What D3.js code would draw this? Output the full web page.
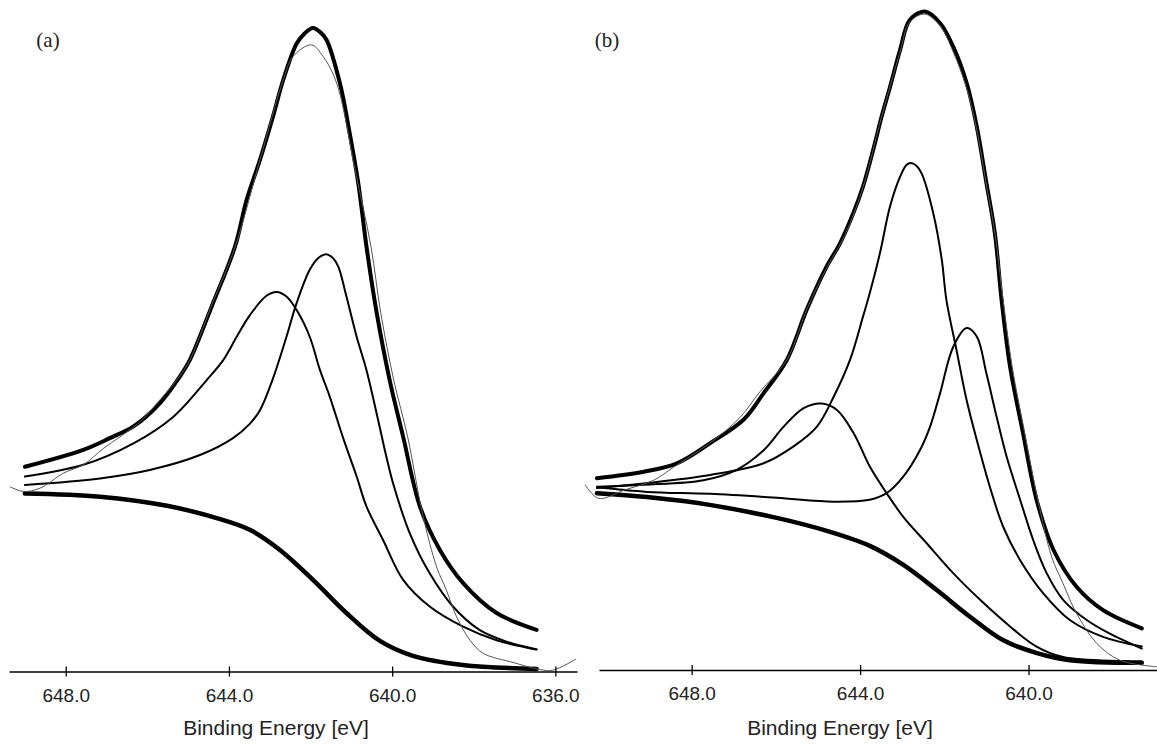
<!DOCTYPE html>
<html>
<head>
<meta charset="utf-8">
<script src="https://cdn.jsdelivr.net/npm/d3@7"></script>
<style>
  body { margin: 0; background: #fff; }
  svg { display: block; }
</style>
</head>
<body>
<div id="chart"></div>
<script>
// ---- panel (a): [binding energy eV, intensity a.u.] ----
var aTicks = [648, 644, 640, 636];
var aBackground = [[649.00,274],[647.16,269],[645.52,255],[644.30,236],[643.49,218],[642.75,187],[641.94,141],
  [641.12,90],[640.30,47],[639.49,24],[638.27,10],[636.46,4]];
var aPeak1 = [[649.00,300],[647.57,318],[646.34,351],[645.36,392],[644.55,448],[644.14,479],[643.80,516],[643.49,548],
  [643.08,578],[642.83,584],[642.59,577],[642.34,556],[642.02,515],[641.77,464],[641.53,423],[641.20,359],[640.87,300],
  [640.63,254],[640.22,202],[639.73,141],[639.08,100],[638.26,69],[637.44,48],[636.46,34]];
var aPeak2 = [[649.00,287],[647.16,297],[645.94,310],[644.71,333],[643.90,359],[643.49,381],[643.24,402],[642.92,451],
  [642.59,515],[642.34,567],[642.02,618],[641.81,636],[641.62,642],[641.45,636],[641.32,623],[641.12,577],[640.87,515],
  [640.63,464],[640.38,397],[640.14,330],[639.98,290],[639.57,213],[639.08,151],[638.51,100],[637.86,64],[637.20,46],[636.46,34]];
var aEnvelope = [[649.00,315],[647.57,341],[646.92,359],[646.34,377],[645.69,413],[645.20,454],[644.96,479],[644.42,562],
  [643.85,654],[643.57,725],[643.24,787],[642.92,854],[642.67,910],[642.34,966],[642.14,982],[641.94,990],[641.77,984],
  [641.61,972],[641.28,905],[641.04,828],[640.83,751],[640.63,654],[640.38,552],[640.06,448],[639.73,361],[639.32,254],
  [638.83,187],[638.26,136],[637.44,90],[636.46,64]];
var aRaw = [[649.36,284],[649.04,277],[648.63,282],[648.06,305],[647.57,318],[647.08,343],[646.67,361],[646.18,384],
  [645.69,418],[645.20,455],[644.96,479],[644.42,564],[643.85,653],[643.24,787],[642.67,910],[642.43,946],[641.98,964],
  [641.69,946],[641.36,905],[640.91,772],[640.52,654],[640.28,552],[639.96,448],[639.62,361],[639.25,241],[638.91,161],
  [638.67,125],[638.42,84],[638.09,48],[637.77,28],[637.04,14],[636.38,3],[636.06,2],[635.50,19]];

// ---- panel (b) ----
var bTicks = [648, 644, 640];
var bBackground = [[650.25,272],[649.06,266],[647.57,254],[645.98,234],[644.79,214],[643.77,191],[642.98,162],
  [642.18,123],[641.39,82],[640.61,46],[639.80,26],[639.02,15],[637.31,11]];
var bPeak1 = [[650.25,282],[649.14,285],[647.72,292],[646.93,308],[646.29,338],[645.82,374],[645.34,403],[644.91,410],
  [644.55,400],[644.15,364],[643.77,313],[643.37,272],[642.98,236],[642.42,195],[641.79,149],[641.15,108],[640.44,67],
  [639.81,36],[639.18,20],[637.31,13]];
var bPeak2 = [[650.25,280],[649.14,287],[647.56,300],[646.29,318],[645.58,344],[645.03,374],[644.63,420],[644.24,477],
  [643.93,544],[643.77,580],[643.53,641],[643.29,713],[643.05,759],[642.90,777],[642.80,780],[642.67,776],[642.54,764],
  [642.26,702],[642.06,631],[641.95,569],[641.71,492],[641.47,415],[641.23,354],[640.92,282],[640.60,220],[640.20,169],
  [639.65,118],[639.02,77],[638.23,51],[637.31,36]];
var bPeak3 = [[650.25,281],[649.06,274],[647.56,271],[645.98,265],[644.63,259],[643.77,262],[643.37,272],[642.98,297],
  [642.58,338],[642.34,374],[642.10,426],[641.79,497],[641.47,526],[641.23,513],[641.00,456],[640.76,390],[640.52,328],
  [640.20,262],[639.89,200],[639.57,149],[639.18,108],[638.62,77],[638.07,56],[637.31,33]];
var bEnvelope = [[650.25,295],[649.14,305],[648.35,318],[647.56,349],[646.77,385],[646.29,426],[645.74,477],[645.27,554],
  [644.80,620],[644.48,656],[644.16,703],[643.93,744],[643.69,800],[643.49,851],[643.29,897],[643.05,954],[642.82,1000],
  [642.46,1013],[642.10,995],[641.79,959],[641.47,903],[641.23,836],[641.00,749],[640.80,672],[640.64,569],[640.44,467],
  [640.13,364],[639.81,262],[639.41,185],[638.86,128],[638.23,92],[637.31,64]];
var bRaw = [[650.53,285],[650.21,264],[649.59,277],[648.90,292],[648.43,312],[647.57,349],[646.86,388],[646.38,428],
  [645.74,477],[645.27,554],[644.80,618],[644.36,669],[643.93,743],[643.49,851],[643.05,951],[642.82,997],[642.46,1009],
  [642.10,991],[641.79,951],[641.47,895],[641.23,831],[641.00,746],[640.80,672],[640.61,572],[640.39,467],[640.09,364],
  [639.78,262],[639.45,174],[639.18,133],[638.86,87],[638.38,41],[637.83,15],[636.96,5]];

var width = 1157,
    height = 744;

var svg = d3.select("#chart").append("svg")
    .attr("width", width)
    .attr("height", height);

var panels = [
  { label: "(a)", labelX: 48, xDomain: [649.39, 635.47], xRange: [9, 577], axisY: 671.5, titleX: 276,
    ticks: aTicks, fits: [aPeak1, aPeak2], background: aBackground, envelope: aEnvelope, raw: aRaw },
  { label: "(b)", labelX: 607, xDomain: [650.2, 636.95], xRange: [599, 1157], axisY: 670, titleX: 840,
    ticks: bTicks, fits: [bPeak1, bPeak2, bPeak3], background: bBackground, envelope: bEnvelope, raw: bRaw }
];

panels.forEach(drawPanel);

function drawPanel(p) {
  var x = d3.scaleLinear().domain(p.xDomain).range(p.xRange);
  var y = d3.scaleLinear().domain([0, 1000]).range([p.axisY, p.axisY - 650]);
  var g = svg.append("g");

  var line = d3.line()
      .x(function(d) { return x(d[0]); })
      .y(function(d) { return y(d[1]); })
      .curve(d3.curveCatmullRom.alpha(0.5));

  function addLine(data, w, color) {
    g.append("path")
        .datum(data)
        .attr("d", line)
        .attr("fill", "none")
        .attr("stroke", color)
        .attr("stroke-width", w)
        .attr("stroke-linejoin", "round")
        .attr("stroke-linecap", "round");
  }

  addLine(p.background, 4.5, "#000");
  p.fits.forEach(function(f) { addLine(f, 2, "#000"); });
  addLine(p.envelope, 4, "#000");
  addLine(p.raw, 1, "#555");

  var axis = d3.axisBottom(x)
      .tickValues(p.ticks)
      .tickFormat(d3.format(".1f"))
      .tickSize(5)
      .tickSizeOuter(0)
      .tickPadding(12);

  var ax = g.append("g")
      .attr("transform", "translate(0," + p.axisY + ")")
      .call(axis);
  ax.select(".domain").attr("stroke", "#000").attr("stroke-width", 1.5);
  ax.selectAll(".tick line").attr("y1", -5).attr("y2", 5).attr("stroke-width", 1.3);
  ax.selectAll(".tick text")
      .attr("font-family", "'Liberation Sans', Arial, sans-serif")
      .attr("font-size", 19)
      .attr("fill", "#222");

  g.append("text")
      .attr("x", p.titleX)
      .attr("y", 735)
      .attr("text-anchor", "middle")
      .attr("font-family", "'Liberation Sans', Arial, sans-serif")
      .attr("font-size", 21)
      .attr("fill", "#222")
      .text("Binding Energy [eV]");

  g.append("text")
      .attr("x", p.labelX)
      .attr("y", 47)
      .attr("text-anchor", "middle")
      .attr("font-family", "'Liberation Serif', 'Times New Roman', serif")
      .attr("font-size", 21)
      .attr("fill", "#222")
      .text(p.label);
}
</script>
</body>
</html>
